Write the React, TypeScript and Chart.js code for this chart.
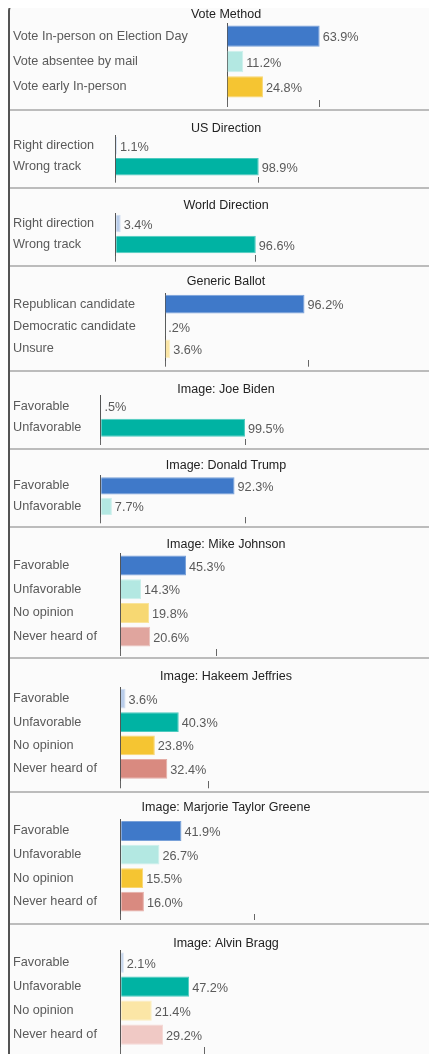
import React, { useEffect, useRef } from "react";
import { Chart, registerables } from "chart.js";

Chart.register(...registerables);

// ---------- data ----------
const panelTitles = [
  "Vote Method",
  "US Direction",
  "World Direction",
  "Generic Ballot",
  "Image: Joe Biden",
  "Image: Donald Trump",
  "Image: Mike Johnson",
  "Image: Hakeem Jeffries",
  "Image: Marjorie Taylor Greene",
  "Image: Alvin Bragg",
];

const voteMethodLabels = ["Vote In-person on Election Day", "Vote absentee by mail", "Vote early In-person"];
const voteMethodValues = [63.9, 11.2, 24.8];

const directionLabels = ["Right direction", "Wrong track"];
const usDirectionValues = [1.1, 98.9];
const worldDirectionValues = [3.4, 96.6];

const genericBallotLabels = ["Republican candidate", "Democratic candidate", "Unsure"];
const genericBallotValues = [96.2, 0.2, 3.6];

const imageTwoLabels = ["Favorable", "Unfavorable"];
const bidenValues = [0.5, 99.5];
const trumpValues = [92.3, 7.7];

const imageFourLabels = ["Favorable", "Unfavorable", "No opinion", "Never heard of"];
const johnsonValues = [45.3, 14.3, 19.8, 20.6];
const jeffriesValues = [3.6, 40.3, 23.8, 32.4];
const greeneValues = [41.9, 26.7, 15.5, 16.0];
const braggValues = [2.1, 47.2, 21.4, 29.2];

// the single axis tick shown under each panel (value in %)
const axisTickValues = [63.9, 99.0, 96.6, 98.8, 100, 100, 66.5, 60.7, 92.6, 57.9];

const panelLabels = [
  voteMethodLabels,
  directionLabels,
  directionLabels,
  genericBallotLabels,
  imageTwoLabels,
  imageTwoLabels,
  imageFourLabels,
  imageFourLabels,
  imageFourLabels,
  imageFourLabels,
];
const panelValues = [
  voteMethodValues,
  usDirectionValues,
  worldDirectionValues,
  genericBallotValues,
  bidenValues,
  trumpValues,
  johnsonValues,
  jeffriesValues,
  greeneValues,
  braggValues,
];

// ---------- styles ----------
const BLUE = "#3f79c9";
const LIGHT_BLUE = "#b9cdea";
const CYAN = "#b3e8e2";
const TEAL = "#00b3a3";
const YELLOW = "#f5c532";
const SOFT_YELLOW = "#f7d872";
const PALE_YELLOW = "#fbe6a6";
const SALMON = "#d98a80";
const SOFT_PINK = "#e0a59e";
const PALE_PINK = "#f0c9c5";

const panelColors = [
  [BLUE, CYAN, YELLOW],
  [LIGHT_BLUE, TEAL],
  [LIGHT_BLUE, TEAL],
  [BLUE, CYAN, PALE_YELLOW],
  [LIGHT_BLUE, TEAL],
  [BLUE, CYAN],
  [BLUE, CYAN, SOFT_YELLOW, SOFT_PINK],
  [LIGHT_BLUE, TEAL, YELLOW, SALMON],
  [BLUE, CYAN, YELLOW, SALMON],
  [LIGHT_BLUE, TEAL, PALE_YELLOW, PALE_PINK],
];

// layout per panel: canvas height, title centre, chart-area top/bottom, tick bottom, axis x (page px)
const panelLayout = [
  { h: 105, titleY: 10.7, top: 19.5, bottom: 95.5, tickBottom: 103, axisX: 227 },
  { h: 76, titleY: 17.3, top: 24.2, bottom: 66.2, tickBottom: 71.7, axisX: 115.3 },
  { h: 76, titleY: 17, top: 24, bottom: 66, tickBottom: 72.7, axisX: 115.7 },
  { h: 103, titleY: 14.7, top: 26, bottom: 93, tickBottom: 99.7, axisX: 165 },
  { h: 76, titleY: 17.3, top: 23.5, bottom: 66.5, tickBottom: 73, axisX: 100.7 },
  { h: 76, titleY: 16, top: 25.7, bottom: 66.7, tickBottom: 73.3, axisX: 100.7 },
  { h: 129, titleY: 17, top: 25.7, bottom: 120.5, tickBottom: 128, axisX: 120.3 },
  { h: 132, titleY: 17.7, top: 28, bottom: 121.5, tickBottom: 129.3, axisX: 120.3 },
  { h: 130, titleY: 14.3, top: 26.2, bottom: 120.5, tickBottom: 127, axisX: 120.7 },
  { h: 130, titleY: 18.3, top: 25.7, bottom: 121.7, tickBottom: 129, axisX: 120.7 },
];

const FONT_FAMILY = '"Liberation Sans", Arial, sans-serif';
const CANVAS_W = 434;
const CANVAS_LEFT = 10; // page x of canvas left edge
const PX_PER_PCT = 1.45;
const PAD_LEFT = 3;
const PAD_RIGHT = 5;
const TEXT_GRAY = "#5a5a5a";

function lighten(hex: string, amt: number) {
  const n = parseInt(hex.slice(1), 16);
  const r = (n >> 16) & 255, g = (n >> 8) & 255, b = n & 255;
  const m = (c: number) => Math.round(c + (255 - c) * amt);
  return `rgb(${m(r)},${m(g)},${m(b)})`;
}

function fmtPct(v: number) {
  return v.toFixed(1).replace(/^0\./, ".") + "%";
}

const valueLabelPlugin = {
  id: "valueLabels",
  afterDatasetsDraw(chart: any) {
    const ctx = chart.ctx;
    const meta = chart.getDatasetMeta(0);
    const data = chart.data.datasets[0].data as number[];
    ctx.save();
    ctx.font = `12.7px ${FONT_FAMILY}`;
    ctx.fillStyle = TEXT_GRAY;
    ctx.textBaseline = "middle";
    ctx.textAlign = "left";
    meta.data.forEach((bar: any, i: number) => {
      ctx.fillText(fmtPct(data[i]), bar.x + 3, bar.y + 1.5);
    });
    ctx.restore();
  },
};

function Panel({ index, last }: { index: number; last: boolean }) {
  const ref = useRef<HTMLCanvasElement | null>(null);
  const L = panelLayout[index];

  useEffect(() => {
    if (!ref.current) return;
    const colors = panelColors[index];
    const areaWidth = CANVAS_W - PAD_RIGHT - (L.axisX - CANVAS_LEFT);
    const xMax = areaWidth / PX_PER_PCT;
    const tickVal = axisTickValues[index];
    const lineH = 12.5;
    const chart = new Chart(ref.current, {
      type: "bar",
      data: {
        labels: panelLabels[index],
        datasets: [
          {
            data: panelValues[index],
            backgroundColor: colors,
            borderColor: colors.map((c) => lighten(c, 0.3)),
            borderWidth: 1,
            borderSkipped: "start",
            categoryPercentage: 1,
            barPercentage: 0.84,
          },
        ],
      },
      options: {
        indexAxis: "y",
        responsive: false,
        animation: false,
        events: [],
        layout: {
          padding: { left: PAD_LEFT, right: PAD_RIGHT, top: 0, bottom: L.h - L.tickBottom },
        },
        plugins: {
          legend: { display: false },
          tooltip: { enabled: false },
          title: {
            display: true,
            text: panelTitles[index],
            color: "#222",
            font: { family: FONT_FAMILY, size: 12.5, weight: "normal", lineHeight: 1 },
            padding: {
              top: Math.max(0, L.titleY - lineH / 2),
              bottom: Math.max(0, L.top - L.titleY - lineH / 2),
            },
          },
        },
        scales: {
          y: {
            grid: { display: false },
            border: { display: true, color: "#555", width: 1 },
            ticks: {
              crossAlign: "far",
              color: TEXT_GRAY,
              padding: 0,
              font: { family: FONT_FAMILY, size: 12.7 },
            },
            afterFit: (s: any) => {
              s.width = L.axisX - CANVAS_LEFT - PAD_LEFT;
            },
          },
          x: {
            min: 0,
            max: xMax,
            border: { display: false },
            grid: {
              drawOnChartArea: false,
              drawTicks: true,
              tickLength: L.tickBottom - L.bottom,
              color: "#666",
              lineWidth: 1,
            },
            ticks: { display: false },
            afterBuildTicks: (s: any) => {
              s.ticks = [{ value: 0 }, { value: tickVal }];
            },
          },
        },
      } as any,
      plugins: [valueLabelPlugin],
    });
    return () => chart.destroy();
  }, [index]);

  return (
    <div
      style={{
        height: L.h,
        borderBottom: last ? "none" : "2px solid #bcbcbc",
        overflow: "hidden",
      }}
    >
      <canvas ref={ref} width={CANVAS_W} height={L.h} style={{ display: "block", width: CANVAS_W, height: L.h }} />
    </div>
  );
}

export default function App() {
  useEffect(() => {
    const prevHtml = document.documentElement.style.overflow;
    const prevBody = document.body.style.overflow;
    document.documentElement.style.overflow = "hidden";
    document.body.style.overflow = "hidden";
    return () => {
      document.documentElement.style.overflow = prevHtml;
      document.body.style.overflow = prevBody;
    };
  }, []);

  return (
    <div
      style={{
        marginTop: -5,
        width: 2 + CANVAS_W,
        boxSizing: "border-box",
        borderLeft: "2px solid #555",
        borderTop: "1px solid #cfcfcf",
        borderTopLeftRadius: 8,
        background: "#fbfbfb",
        overflow: "hidden",
      }}
    >
      {panelTitles.map((_, i) => (
        <Panel key={i} index={i} last={i === panelTitles.length - 1} />
      ))}
    </div>
  );
}
